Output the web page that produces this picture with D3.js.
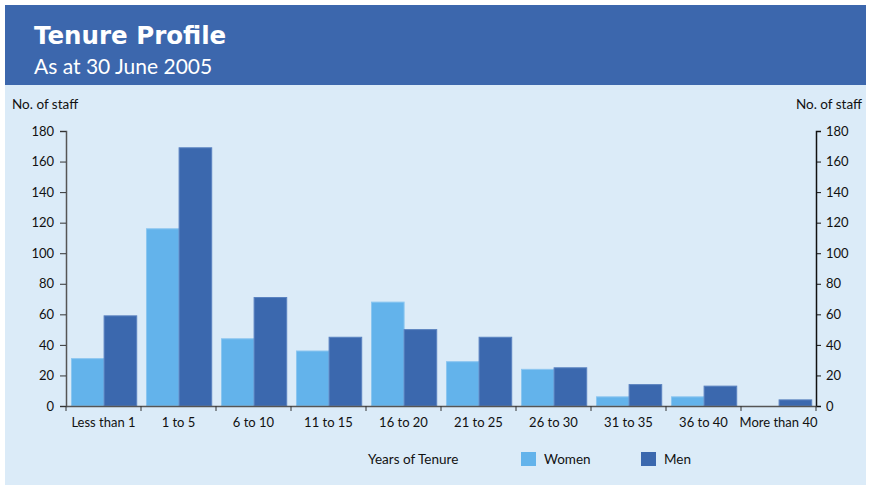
<!DOCTYPE html>
<html><head><meta charset="utf-8">
<script src="https://cdn.jsdelivr.net/npm/d3@7"></script>
<style>
body{margin:0;background:#fff;}
</style></head>
<body><svg id="c" width="870" height="486" font-family="Lato, Noto Sans, sans-serif"></svg>
<script>
const categories = ["Less than 1","1 to 5","6 to 10","11 to 15","16 to 20","21 to 25","26 to 30","31 to 35","36 to 40","More than 40"];
const women = [31,116,44,36,68,29,24,6,6,0];
const men = [59,169,71,45,50,45,25,14,13,4];
const seriesNames = ["Women","Men"];
const yTicks = [0,20,40,60,80,100,120,140,160,180];
const colors = {Women:"#63b3eb", Men:"#3b68ae"};

const svg = d3.select("#c");
svg.append("rect").attr("x",5).attr("y",5).attr("width",861).attr("height",480).attr("fill","#dbebf8");
svg.append("rect").attr("x",5).attr("y",5).attr("width",861).attr("height",80).attr("fill","#3c67ad");
svg.append("text").attr("x",34).attr("y",44).attr("fill","#fff").style("font-size","24.5px").style("font-weight","bold")
  .style("font-family","'DejaVu Sans', sans-serif").text("Tenure Profile");
svg.append("text").attr("x",34).attr("y",74).attr("fill","#fff").attr("font-size",21).text("As at 30 June 2005");

const pL=66,pR=816,pT=131,pB=406;
const x = d3.scaleBand().domain(categories).range([pL,pR]).paddingInner(0).paddingOuter(0);
const xs = d3.scaleBand().domain(seriesNames).range([0.6,x.bandwidth()+0.6]).paddingInner(0).paddingOuter(0.15);
const y = d3.scaleLinear().domain([0,180]).range([pB,pT]);

const data = categories.map((c,i)=>({c, Women:women[i], Men:men[i]}));
const g = svg.append("g");
data.forEach(d=>{
  seriesNames.forEach(s=>{
    const v=d[s];
    g.append("rect").attr("x",x(d.c)+xs(s)).attr("y",y(v)).attr("width",xs.bandwidth()).attr("height",pB-y(v))
     .attr("fill",colors[s]).attr("stroke",s==="Women"?"#8cc6f0":"#5a82c0").attr("stroke-width",v>0?1:0);
  });
});

const fs=13;
const ya = svg.append("g").attr("transform",`translate(${pL},0)`).call(d3.axisLeft(y).tickValues(yTicks).tickSize(6).tickPadding(6));
ya.select(".domain").attr("stroke","#555").attr("stroke-width",1.5);
ya.selectAll(".tick line").attr("stroke","#333");
ya.selectAll("text").attr("font-size",fs).attr("fill","#111").attr("font-family","Lato, Noto Sans, sans-serif");

const yb = svg.append("g").attr("transform",`translate(${pR},0)`).call(d3.axisRight(y).tickValues(yTicks).tickSize(5).tickPadding(5));
yb.select(".domain").attr("stroke","#111").attr("stroke-width",1.5);
yb.selectAll(".tick line").attr("stroke","#111");
yb.selectAll("text").attr("font-size",fs).attr("fill","#111").attr("font-family","Lato, Noto Sans, sans-serif");

const xa = svg.append("g").attr("transform",`translate(0,${pB})`).call(d3.axisBottom(x).tickSize(0).tickPadding(12));
xa.select(".domain").attr("stroke","#555").attr("stroke-width",1.5);
xa.selectAll("text").attr("font-size",fs).attr("fill","#111").attr("font-family","Lato, Noto Sans, sans-serif");
const bounds = categories.map(c=>x(c)).concat([pR]);
svg.append("g").selectAll("line").data(bounds).join("line")
  .attr("x1",d=>d).attr("x2",d=>d).attr("y1",pB).attr("y2",pB+5).attr("stroke","#333");

svg.append("text").attr("x",12).attr("y",109).attr("font-size",13.5).attr("fill","#111").text("No. of staff");
svg.append("text").attr("x",862).attr("y",109).attr("text-anchor","end").attr("font-size",13.5).attr("fill","#111").text("No. of staff");

svg.append("text").attr("x",368).attr("y",464).attr("font-size",13.5).attr("fill","#111").text("Years of Tenure");
const leg=[{n:"Women",x:521},{n:"Men",x:641}];
leg.forEach(l=>{
  svg.append("rect").attr("x",l.x).attr("y",452).attr("width",15).attr("height",14).attr("fill",colors[l.n]);
  svg.append("text").attr("x",l.x+23).attr("y",464).attr("font-size",13.5).attr("fill","#111").text(l.n);
});
</script></body></html>
